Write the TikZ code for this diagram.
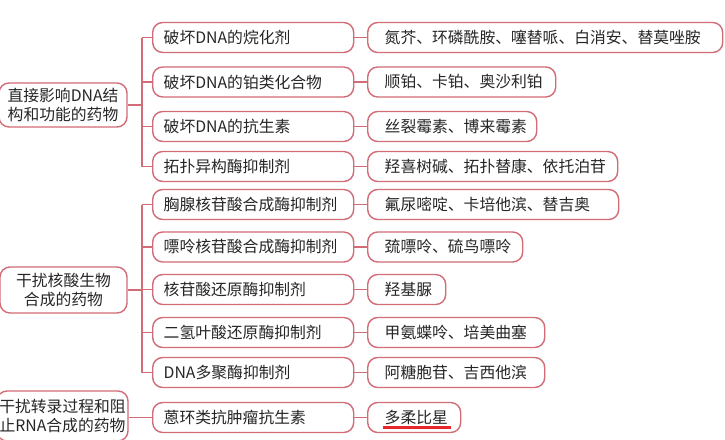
\documentclass[tikz,border=0pt]{standalone}
\usepackage{fontspec}
\setmainfont{Noto Sans CJK SC}
\definecolor{boxc}{RGB}{210,108,118}
\definecolor{ulc}{RGB}{232,38,44}
\begin{document}
\begin{tikzpicture}[x=1pt,y=-1pt,
  base/.style={draw=boxc, line width=1.4pt, rounded corners=10pt,
    font=\fontsize{15.8}{19.5}\selectfont, inner ysep=0pt, minimum height=30pt, text=black!85},
  lbox/.style={base, align=center, inner xsep=0pt},
  mbox/.style={base, anchor=west, inner xsep=0pt, text width=201pt, align=left,
    execute at begin node=\hspace*{11pt}},
  rbox/.style={base, anchor=west, inner xsep=0pt, text width=#1, align=left,
    execute at begin node=\hspace*{17pt}},
  link/.style={draw=boxc, line width=1.4pt}
]
\useasboundingbox (0,0) rectangle (725,439);
\fill[white] (0,0) rectangle (725,439);

% left boxes
\node[lbox, minimum width=128pt, minimum height=44pt] (L1) at (63,105) {直接影响DNA结\\构和功能的药物};
\node[lbox, minimum width=127pt, minimum height=46pt] (L2) at (63.5,290) {干扰核酸生物\\合成的药物};
\node[lbox, minimum width=131pt, minimum height=50pt] (L3) at (62.5,416) {干扰转录过程和阻\\止RNA合成的药物};

% middle boxes
\node[mbox] (M1) at (152,37.5) {破坏DNA的烷化剂};
\node[mbox] (M2) at (152,82) {破坏DNA的铂类化合物};
\node[mbox] (M3) at (152,126.5) {破坏DNA的抗生素};
\node[mbox] (M4) at (152,166.5) {拓扑异构酶抑制剂};
\node[mbox] (M5) at (152,204.5) {胸腺核苷酸合成酶抑制剂};
\node[mbox] (M6) at (152,247) {嘌呤核苷酸合成酶抑制剂};
\node[mbox] (M7) at (152,289.5) {核苷酸还原酶抑制剂};
\node[mbox] (M8) at (152,332.5) {二氢叶酸还原酶抑制剂};
\node[mbox] (M9) at (152,372.5) {DNA多聚酶抑制剂};
\node[mbox] (M10) at (152,417.5) {蒽环类抗肿瘤抗生素};

% right boxes
\node[rbox=355pt] (R1) at (367,37.5) {氮芥、环磷酰胺、噻替哌、白消安、替莫唑胺};
\node[rbox=188pt] (R2) at (367,82) {顺铂、卡铂、奥沙利铂};
\node[rbox=169pt] (R3) at (367,126.5) {丝裂霉素、博来霉素};
\node[rbox=250pt] (R4) at (367,166.5) {羟喜树碱、拓扑替康、依托泊苷};
\node[rbox=251pt] (R5) at (367,204.5) {氟尿嘧啶、卡培他滨、替吉奥};
\node[rbox=155pt] (R6) at (367,247) {巯嘌呤、硫鸟嘌呤};
\node[rbox=78pt] (R7) at (367,289.5) {羟基脲};
\node[rbox=177pt] (R8) at (367,332.5) {甲氨蝶呤、培美曲塞};
\node[rbox=177pt] (R9) at (367,372.5) {阿糖胞苷、吉西他滨};
\node[rbox=93pt] (R10) at (367,417.5) {多柔比星};

% trunks
\coordinate (T1) at (142,105);
\coordinate (T2) at (142,290);
\path[link] (L1.east) -- (T1);
\path[link] (T1 |- M1.west) -- (T1 |- M4.west);
\foreach \m in {M1,M2,M3,M4} \path[link] (T1 |- \m.west) -- (\m.west);
\path[link] (L2.east) -- (T2);
\path[link] (T2 |- M5.west) -- (T2 |- M9.west);
\foreach \m in {M5,M6,M7,M8,M9} \path[link] (T2 |- \m.west) -- (\m.west);
\path[link] (L3.east |- M10.west) -- (M10.west);

% middle to right
\foreach \i in {1,...,10} \path[link] (M\i.east) -- (R\i.west);

% underline
\draw[ulc, line width=3pt] (383,427.5) -- (451,427.5);
\end{tikzpicture}
\end{document}
